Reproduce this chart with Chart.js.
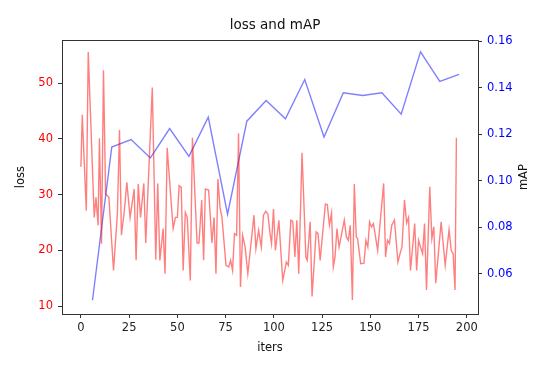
<!DOCTYPE html>
<html>
<head>
<meta charset="utf-8">
<script src="https://cdn.jsdelivr.net/npm/chart.js@4/dist/chart.umd.min.js"></script>
<style>
  html, body { margin: 0; padding: 0; background: #fff; }
  #wrap { width: 540px; height: 368px; }
</style>
</head>
<body>
<div id="wrap"><canvas id="loss-map-plot" width="540" height="368"></canvas></div>
<script>
// loss, read at (roughly) every turning point of the red curve
let loss_iters = [0, 0.7, 2.8, 3.8, 6.9, 7.8, 8.9, 9.6, 10.7, 11.7, 12.8, 14.5, 16.9, 18.9, 20.0, 21.0, 22.5, 23.8, 25.5, 27.6,
    28.6, 29.7, 30.9, 32.6, 33.6, 37.0, 38.8, 39.8, 40.9, 42.6, 43.6, 44.7, 47.8, 49.0, 50.0, 50.9, 52.0, 53.0, 54.1, 55.1,
    56.7, 57.8, 60.2, 61.2, 62.6, 63.6, 64.5, 66.2, 67.9, 69.0, 70.0, 71.0, 72.1, 73.1, 75.2, 76.6, 77.6, 78.6, 79.6, 80.7,
    81.7, 82.7, 83.8, 85.1, 86.5, 89.7, 90.7, 92.1, 93.5, 94.6, 95.8, 96.9, 98.0, 98.8, 99.8, 100.8, 102.6, 104.6, 106.5, 107.5,
    108.8, 109.8, 110.9, 111.9, 112.9, 114.6, 116.6, 117.3, 118.8, 119.8, 121.9, 122.9, 124.0, 126.7, 127.7, 128.8, 129.9, 130.8, 131.7, 132.7,
    133.8, 136.5, 137.6, 138.6, 139.6, 140.7, 141.7, 142.7, 143.4, 145.0, 146.7, 147.7, 148.7, 149.6, 150.6, 151.6, 153.8, 156.9, 157.9, 158.9,
    159.9, 161.1, 162.5, 164.3, 165.4, 166.4, 167.7, 168.8, 169.8, 170.8, 173.0, 174.0, 175.0, 176.0, 177.1, 178.1, 179.1, 180.8, 181.9, 182.9,
    183.9, 186.7, 188.8, 190.8, 191.9, 192.9, 193.9, 194.6]
let loss_values = [35.0, 44.3, 27.1, 55.6, 25.9, 29.5, 24.5, 40.1, 21.2, 52.3, 30.1, 29.5, 16.4, 26.6, 41.6, 22.7, 27.1, 32.2, 25.9, 31.0,
    18.2, 31.9, 25.9, 32.0, 21.3, 49.2, 18.3, 32.0, 18.2, 23.9, 15.8, 38.4, 23.9, 25.9, 25.9, 31.6, 31.3, 16.4, 26.8, 25.9,
    14.6, 40.2, 21.3, 21.3, 29.0, 18.2, 31.0, 30.8, 21.3, 25.9, 15.8, 32.8, 27.7, 25.9, 17.3, 17.0, 18.2, 16.4, 23.0, 22.7,
    41.0, 13.4, 22.7, 20.6, 15.8, 26.3, 20.3, 23.6, 20.6, 26.3, 27.0, 26.5, 23.0, 21.2, 27.4, 20.0, 25.4, 14.6, 17.9, 17.3,
    25.4, 25.2, 18.8, 25.4, 15.8, 37.5, 18.8, 18.2, 25.1, 11.7, 23.3, 23.0, 18.2, 28.3, 28.2, 24.5, 26.7, 17.0, 18.8, 23.9,
    20.6, 25.4, 22.4, 21.8, 24.5, 11.1, 31.9, 22.4, 22.1, 17.6, 17.7, 21.8, 20.6, 25.1, 24.2, 24.8, 20.0, 32.0, 18.8, 21.8,
    21.2, 24.5, 25.4, 17.9, 19.4, 20.6, 29.0, 24.9, 25.9, 16.4, 24.8, 16.4, 21.8, 20.6, 19.4, 24.8, 12.9, 31.4, 22.1, 24.2,
    14.1, 25.1, 17.3, 23.7, 20.0, 19.4, 12.9, 40.2]

// mAP, evaluated every 10 iters
let map_iters = [6, 16, 26, 36, 46, 56, 66, 76, 86, 96, 106, 116, 126, 136, 146, 156, 166, 176, 186, 196]
let map_values = [0.0486, 0.1145, 0.1177, 0.1098, 0.1224, 0.1105, 0.1273, 0.0856, 0.1256, 0.1345,
    0.1266, 0.1435, 0.1188, 0.1378, 0.1366, 0.1378, 0.1286, 0.1554, 0.1427, 0.1457]

let x_ticks = [0, 25, 50, 75, 100, 125, 150, 175, 200]
let loss_ticks = [10, 20, 30, 40, 50]
let map_ticks = [0.06, 0.08, 0.10, 0.12, 0.14, 0.16]

const FONT = 'DejaVu Sans'
const SPINE = '#333'

// frame around the axes + the right hand "mAP" label (reads bottom to top, like matplotlib)
const frame_plugin = {
    id: 'frame',
    afterDraw(chart) {
        const a = chart.chartArea
        const ctx = chart.ctx
        ctx.save()
        ctx.strokeStyle = SPINE
        ctx.lineWidth = 1
        ctx.strokeRect(Math.round(a.left) + 0.5, Math.round(a.top) + 0.5,
            Math.round(a.right - a.left), Math.round(a.bottom - a.top))
        ctx.translate(524, (a.top + a.bottom) / 2)
        ctx.rotate(-Math.PI / 2)
        ctx.fillStyle = '#111'
        ctx.font = '11.5px "' + FONT + '"'
        ctx.textAlign = 'center'
        ctx.textBaseline = 'middle'
        ctx.fillText('mAP', 0, 0)
        ctx.restore()
    }
}

function tick_grid() {
    return {drawOnChartArea: false, drawTicks: true, tickLength: 4, color: SPINE, lineWidth: 1}
}

document.addEventListener("DOMContentLoaded", () => {
    Chart.defaults.font.family = FONT
    Chart.defaults.font.size = 11.5
    Chart.defaults.animation = false
    Chart.defaults.plugins.legend.display = false
    Chart.defaults.plugins.tooltip.enabled = false

    let ctx = document.getElementById("loss-map-plot")
    new Chart(ctx, {
        type: 'line',
        data: {
            datasets: [{
                data: loss_iters.map((x, i) => ({x: x, y: loss_values[i]})),
                borderColor: 'rgba(255,0,0,0.5)',
                borderWidth: 1.4,
                pointRadius: 0,
                tension: 0,
                yAxisID: 'y',
            }, {
                data: map_iters.map((x, i) => ({x: x, y: map_values[i]})),
                borderColor: 'rgba(0,0,255,0.5)',
                borderWidth: 1.4,
                pointRadius: 0,
                tension: 0,
                yAxisID: 'y2',
            }]
        },
        options: {
            responsive: false,
            devicePixelRatio: 1,
            layout: {padding: {left: 10, right: 0, top: 0, bottom: 9}},
            plugins: {
                title: {
                    display: true,
                    text: 'loss and mAP',
                    color: '#111',
                    font: {size: 13.5, weight: 'normal'},
                    padding: {top: 17, bottom: 7},
                },
            },
            scales: {
                x: {
                    type: 'linear',
                    min: -9.8, max: 205.8,
                    afterBuildTicks: (s) => { s.ticks = x_ticks.map(v => ({value: v})) },
                    afterFit: (s) => { s.height = 45 },
                    grid: tick_grid(),
                    border: {display: false},
                    ticks: {color: '#222', padding: 3, maxRotation: 0},
                    title: {display: true, text: 'iters', color: '#111', padding: {top: 4, bottom: 4}},
                },
                y: {
                    position: 'left',
                    min: 8.57, max: 57.7,
                    afterBuildTicks: (s) => { s.ticks = loss_ticks.map(v => ({value: v})) },
                    afterFit: (s) => { s.width = 52 },
                    grid: tick_grid(),
                    border: {display: false},
                    ticks: {color: 'red', padding: 5},
                    title: {display: true, text: 'loss', color: '#111', padding: {top: 4, bottom: 4}},
                },
                y2: {
                    position: 'right',
                    min: 0.0427, max: 0.1604,
                    afterBuildTicks: (s) => { s.ticks = map_ticks.map(v => ({value: v})) },
                    afterFit: (s) => { s.width = 62 },
                    grid: tick_grid(),
                    border: {display: false},
                    ticks: {color: 'blue', padding: 5, callback: (v) => v.toFixed(2)},
                },
            },
        },
        plugins: [frame_plugin],
    })
})
</script>
</body>
</html>
